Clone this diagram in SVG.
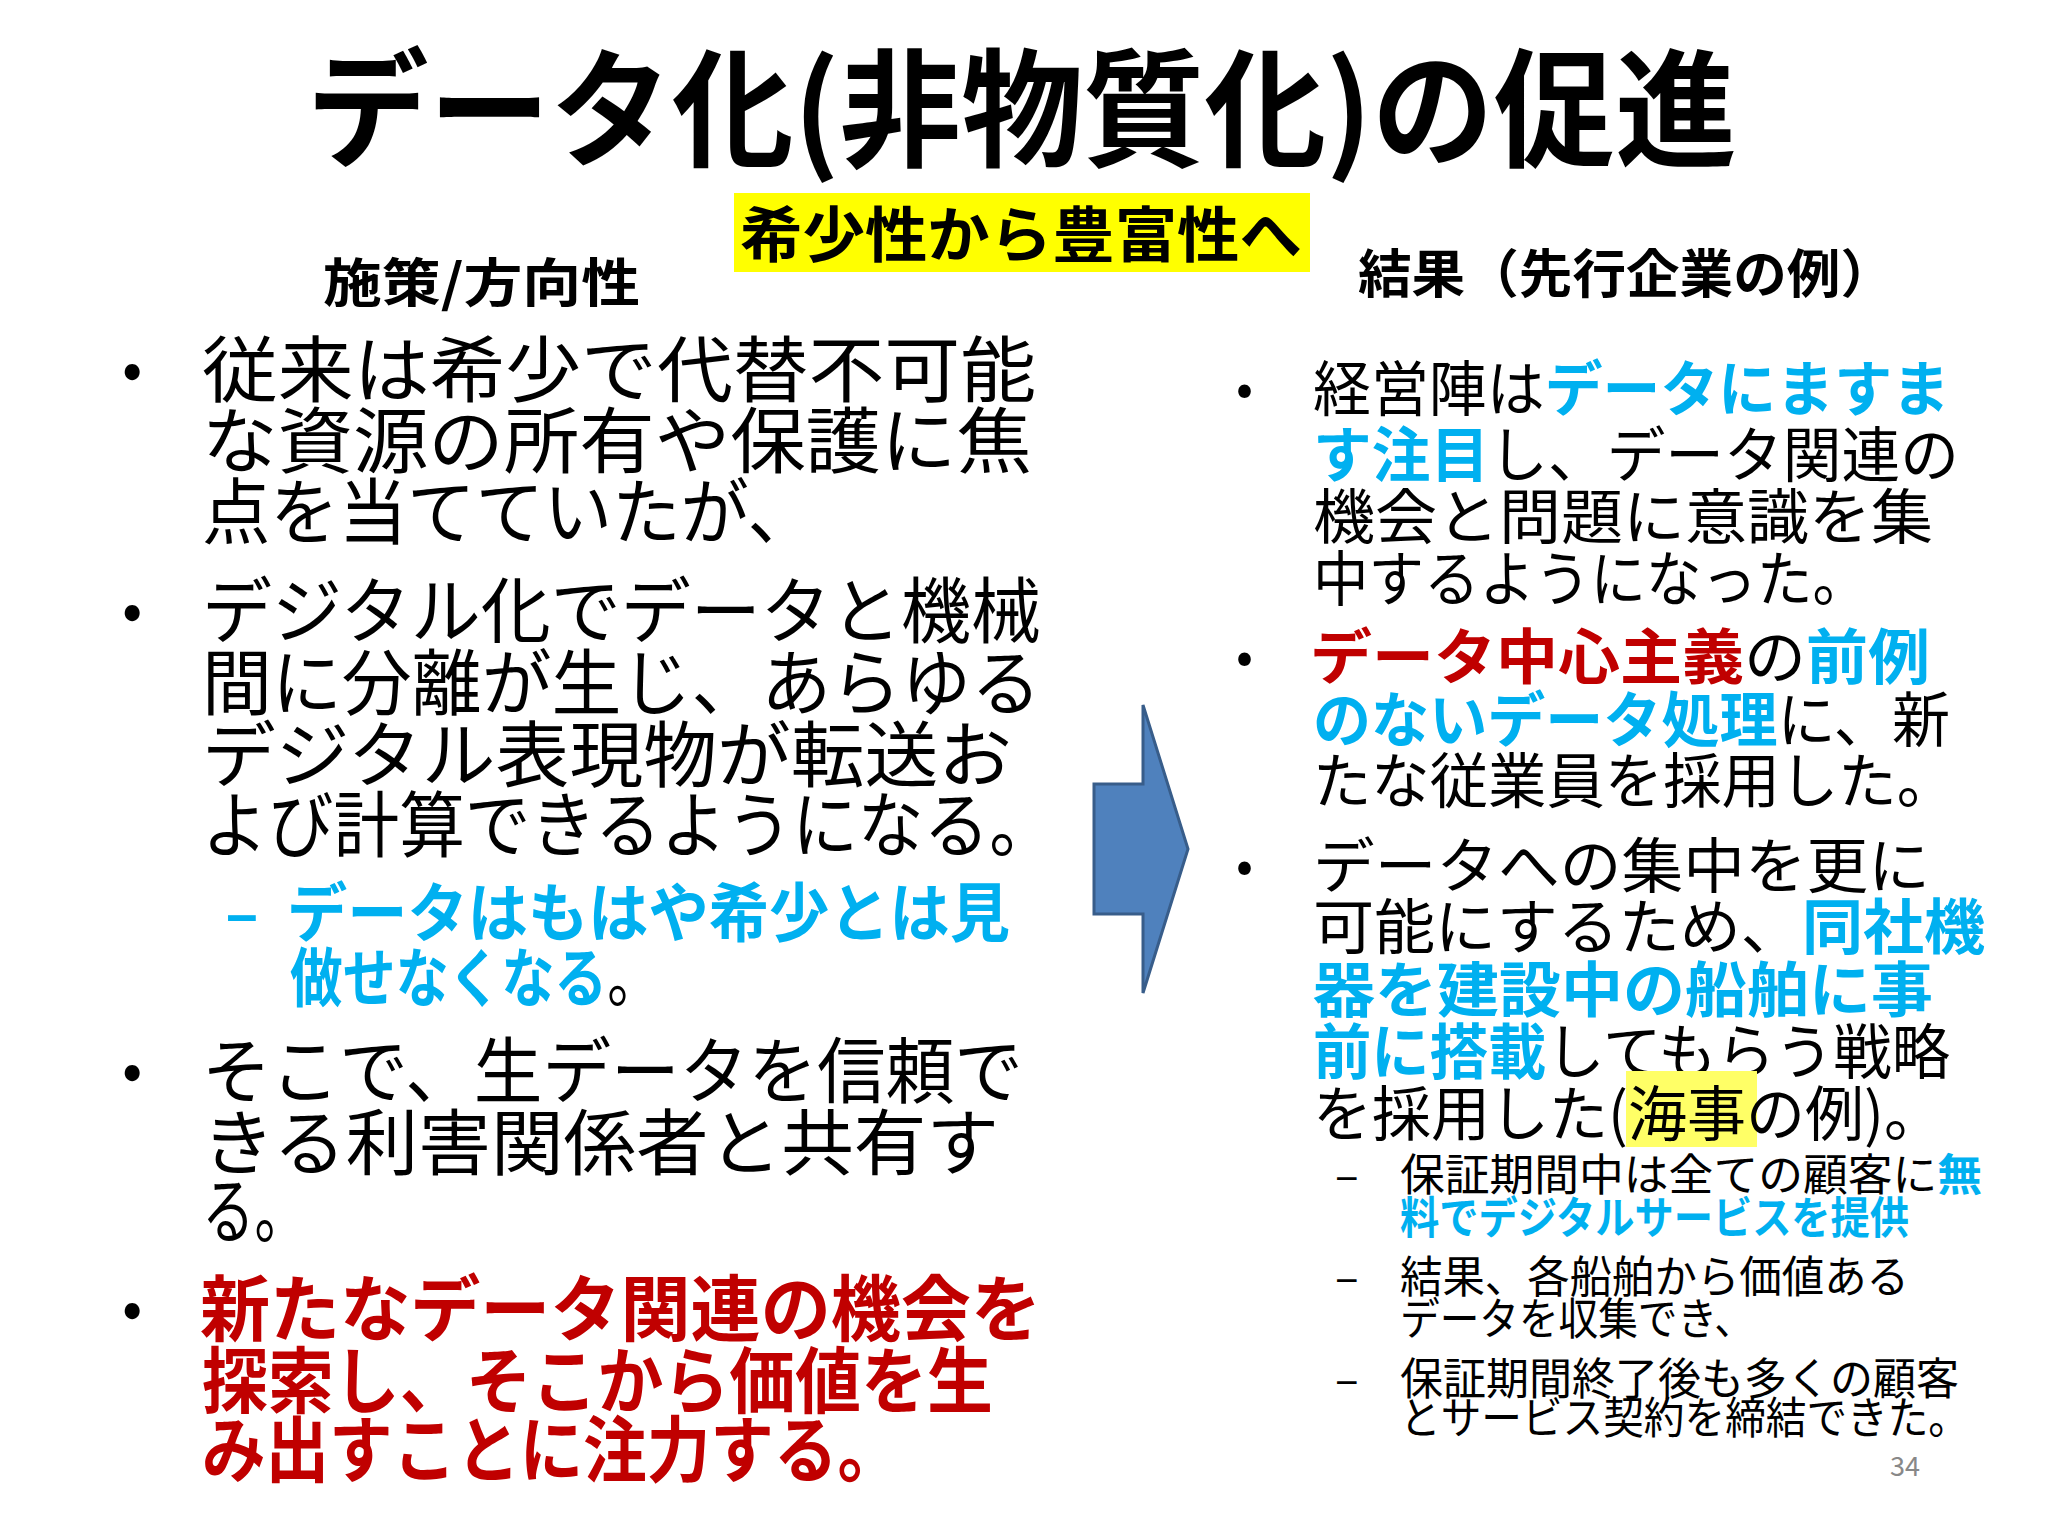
<svg xmlns="http://www.w3.org/2000/svg" width="2048" height="1536" viewBox="0 0 2048 1536">
<style>
text{font-family:"Noto Sans CJK JP","Noto Sans",sans-serif;fill:#000}
.b{font-weight:bold}
.bl{fill:#00B0F0;font-weight:bold}
.rd{fill:#C00000;font-weight:bold}
.L{font-size:72px}
.R{font-size:60px}
.S{font-size:44px}
</style>
<rect width="2048" height="1536" fill="#fff"/>
<g id="title"><text x="307" y="157" font-size="128" class="b" textLength="1430" lengthAdjust="spacingAndGlyphs">データ化(非物質化)の促進</text></g>
<g id="subtitle"><rect x="734" y="193" width="576" height="79" fill="#FFFF00"/><text x="740" y="257" font-size="60" class="b" textLength="562" lengthAdjust="spacingAndGlyphs">希少性から豊富性へ</text></g>
<g id="head-left"><text x="323" y="302" font-size="52" class="b" textLength="317" lengthAdjust="spacingAndGlyphs">施策/方向性</text></g>
<g id="head-right"><text x="1358" y="293" font-size="52" class="b" textLength="536" lengthAdjust="spacingAndGlyphs">結果（先行企業の例）</text></g>
<g id="left" class="L">
<text x="122" y="390" font-size="60">•</text>
<text x="202" y="396" textLength="834" lengthAdjust="spacingAndGlyphs">従来は希少で代替不可能</text>
<text x="202" y="467" textLength="830" lengthAdjust="spacingAndGlyphs">な資源の所有や保護に焦</text>
<text x="202" y="538" textLength="614" lengthAdjust="spacingAndGlyphs">点を当てていたが、</text>
<text x="122" y="631" font-size="60">•</text>
<text x="202" y="637" textLength="839" lengthAdjust="spacingAndGlyphs">デジタル化でデータと機械</text>
<text x="202" y="709" textLength="839" lengthAdjust="spacingAndGlyphs">間に分離が生じ、あらゆる</text>
<text x="202" y="781" textLength="810" lengthAdjust="spacingAndGlyphs">デジタル表現物が転送お</text>
<text x="202" y="851" textLength="853" lengthAdjust="spacingAndGlyphs">よび計算できるようになる。</text>
<text x="225" y="936" font-size="62" class="bl">–</text>
<text x="287" y="936" font-size="64" class="bl" textLength="723" lengthAdjust="spacingAndGlyphs">データはもはや希少とは見</text>
<text x="290" y="1001" font-size="64" textLength="370" lengthAdjust="spacingAndGlyphs"><tspan class="bl">做せなくなる</tspan>。</text>
<text x="122" y="1091" font-size="60">•</text>
<text x="202" y="1097" textLength="821" lengthAdjust="spacingAndGlyphs">そこで、生データを信頼で</text>
<text x="202" y="1169" textLength="797" lengthAdjust="spacingAndGlyphs">きる利害関係者と共有す</text>
<text x="202" y="1237" textLength="105" lengthAdjust="spacingAndGlyphs">る。</text>
<text x="122" y="1329" font-size="60" fill="#C00000">•</text>
<text x="200" y="1335" class="rd" textLength="841" lengthAdjust="spacingAndGlyphs">新たなデータ関連の機会を</text>
<text x="202" y="1407" class="rd" textLength="791" lengthAdjust="spacingAndGlyphs">探索し、そこから価値を生</text>
<text x="202" y="1476" class="rd" textLength="699" lengthAdjust="spacingAndGlyphs">み出すことに注力する。</text>
</g>
<g id="arrow"><path d="M1094,784 H1143 V705 L1188,849 L1143,993 V914 H1094 Z" fill="#4F81BD" stroke="#385D8A" stroke-width="3"/></g>
<g id="right" class="R">
<text x="1236" y="406" font-size="50">•</text>
<text x="1313" y="411" textLength="637" lengthAdjust="spacingAndGlyphs">経営陣は<tspan class="bl">データにますま</tspan></text>
<text x="1313" y="477" textLength="646" lengthAdjust="spacingAndGlyphs"><tspan class="bl">す注目</tspan>し、データ関連の</text>
<text x="1313" y="539" textLength="620" lengthAdjust="spacingAndGlyphs">機会と問題に意識を集</text>
<text x="1313" y="601" textLength="555" lengthAdjust="spacingAndGlyphs">中するようになった。</text>
<text x="1236" y="674" font-size="50" fill="#C00000">•</text>
<text x="1310" y="679" textLength="620" lengthAdjust="spacingAndGlyphs"><tspan class="rd">データ中心主義</tspan>の<tspan class="bl">前例</tspan></text>
<text x="1313" y="742" textLength="637" lengthAdjust="spacingAndGlyphs"><tspan class="bl">のないデータ処理</tspan>に、新</text>
<text x="1313" y="803" textLength="642" lengthAdjust="spacingAndGlyphs">たな従業員を採用した。</text>
<text x="1236" y="883" font-size="50">•</text>
<text x="1313" y="888" textLength="617" lengthAdjust="spacingAndGlyphs">データへの集中を更に</text>
<text x="1313" y="949" textLength="672" lengthAdjust="spacingAndGlyphs">可能にするため、<tspan class="bl">同社機</tspan></text>
<text x="1313" y="1012" class="bl" textLength="620" lengthAdjust="spacingAndGlyphs">器を建設中の船舶に事</text>
<text x="1313" y="1074" textLength="637" lengthAdjust="spacingAndGlyphs"><tspan class="bl">前に搭載</tspan>してもらう戦略</text>
<rect x="1626" y="1071" width="131" height="76" fill="#FFFF66"/>
<text x="1313" y="1136" textLength="630" lengthAdjust="spacingAndGlyphs">を採用した(海事の例)。</text>
<g class="S">
<text x="1335" y="1191">–</text>
<text x="1400" y="1191" textLength="582" lengthAdjust="spacingAndGlyphs">保証期間中は全ての顧客に<tspan class="bl">無</tspan></text>
<text x="1400" y="1234" class="bl" textLength="509" lengthAdjust="spacingAndGlyphs">料でデジタルサービスを提供</text>
<text x="1335" y="1293">–</text>
<text x="1400" y="1293" textLength="509" lengthAdjust="spacingAndGlyphs">結果、各船舶から価値ある</text>
<text x="1400" y="1335" textLength="354" lengthAdjust="spacingAndGlyphs">データを収集でき、</text>
<text x="1335" y="1395">–</text>
<text x="1400" y="1395" textLength="559" lengthAdjust="spacingAndGlyphs">保証期間終了後も多くの顧客</text>
<text x="1400" y="1434" textLength="569" lengthAdjust="spacingAndGlyphs">とサービス契約を締結できた。</text>
</g>
</g>
<g id="page"><text x="1890" y="1476" font-size="27" fill="#888" style="fill:#888">34</text></g>
</svg>
